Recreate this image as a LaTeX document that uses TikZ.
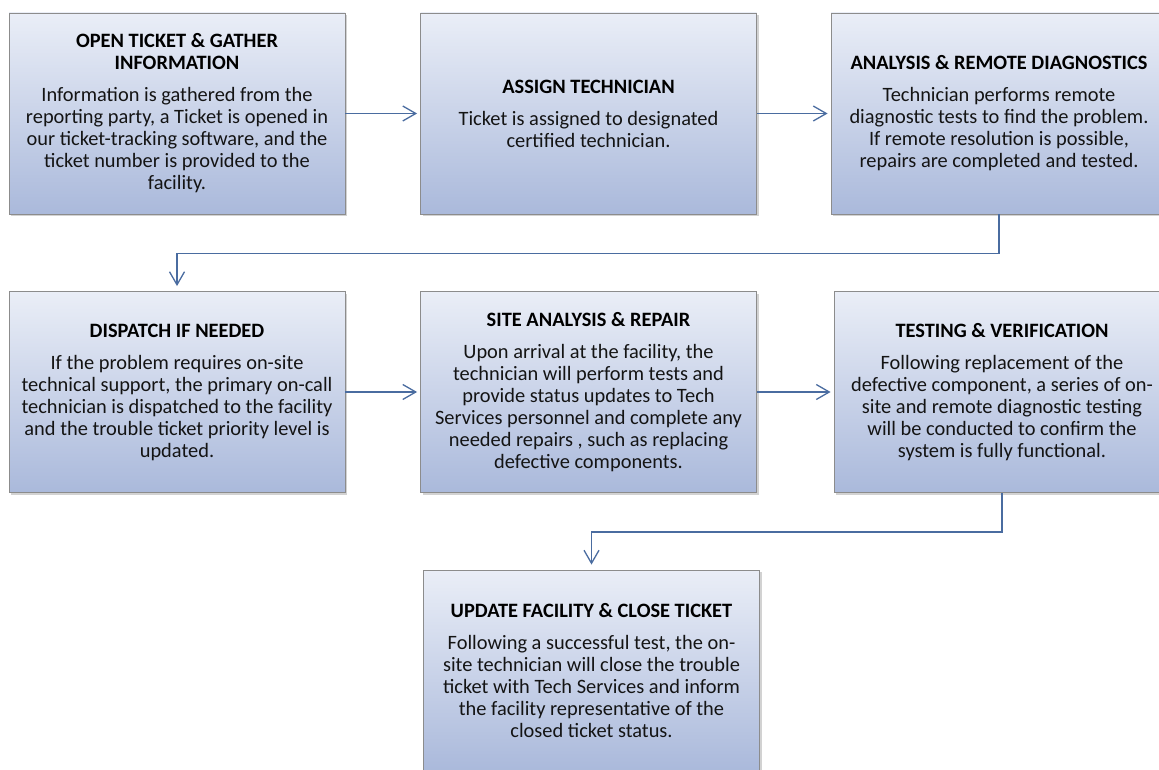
\documentclass[tikz,border=0pt]{standalone}
\usepackage{fontspec}
\setmainfont{Carlito}
\usetikzlibrary{arrows.meta,shadows}
\definecolor{boxtop}{RGB}{234,238,247}
\definecolor{boxbot}{RGB}{170,185,219}
\definecolor{boxedge}{RGB}{140,140,140}
\definecolor{conncol}{RGB}{74,108,160}
\definecolor{bodytext}{RGB}{20,20,20}
\tikzset{
  procbox/.style={draw=boxedge, line width=0.9pt, rectangle,
    minimum width=336pt, minimum height=201pt, inner sep=4pt,
    top color=boxtop, bottom color=boxbot,
    drop shadow={opacity=0.35, shadow xshift=2pt, shadow yshift=-2pt},
    align=center, text=bodytext,
    font=\fontsize{20.4}{22}\selectfont},
  conn/.style={draw=conncol, line width=1.3pt,
    -{Straight Barb[length=13pt,width=15pt,line width=1.3pt]}}
}
\newcommand{\boxtitle}[1]{{\bfseries\color{black}#1}}
\begin{document}
\begin{tikzpicture}[x=1pt,y=-1pt]
\useasboundingbox[fill=white] (0,0) rectangle (1159,770);
\node[procbox] (b1) at (177,113.5) {\boxtitle{OPEN TICKET \& GATHER}\\\boxtitle{INFORMATION}\\[10pt]
Information is gathered from the\\reporting party, a Ticket is opened in\\our ticket-tracking software, and the\\ticket number is provided to the\\facility.};
\node[procbox] (b2) at (588.5,113.5) {\boxtitle{ASSIGN TECHNICIAN}\\[10pt]
Ticket is assigned to designated\\certified technician.};
\node[procbox] (b3) at (999,113.5) {\boxtitle{ANALYSIS \& REMOTE DIAGNOSTICS}\\[10pt]
Technician performs remote\\diagnostic tests to find the problem.\\If remote resolution is possible,\\repairs are completed and tested.};
\node[procbox] (b4) at (177,392) {\boxtitle{DISPATCH IF NEEDED}\\[10pt]
If the problem requires on-site\\technical support, the primary on-call\\technician is dispatched to the facility\\and the trouble ticket priority level is\\updated.};
\node[procbox] (b5) at (588.5,392) {\boxtitle{SITE ANALYSIS \& REPAIR}\\[10pt]
Upon arrival at the facility, the\\technician will perform tests and\\provide status updates to Tech\\Services personnel and complete any\\needed repairs , such as replacing\\defective components.};
\node[procbox] (b6) at (1002,392) {\boxtitle{TESTING \& VERIFICATION}\\[10pt]
Following replacement of the\\defective component, a series of on-\\site and remote diagnostic testing\\will be conducted to confirm the\\system is fully functional.};
\node[procbox] (b7) at (591.5,670.5) {\boxtitle{UPDATE FACILITY \& CLOSE TICKET}\\[10pt]
Following a successful test, the on-\\site technician will close the trouble\\ticket with Tech Services and inform\\the facility representative of the\\closed ticket status.};
\draw[conn, shorten >=3pt] (b1.east) -- (b2.west);
\draw[conn, shorten >=3pt] (b2.east) -- (b3.west);
\draw[conn, shorten >=3pt] (b4.east) -- (b5.west);
\draw[conn, shorten >=3pt] (b5.east) -- (b6.west);
\draw[conn, shorten >=5pt] (b3.south) -- ++(0,39) -| (b4.north);
\draw[conn, shorten >=5pt] (b6.south) -- ++(0,39) -| (b7.north);
\end{tikzpicture}
\end{document}
